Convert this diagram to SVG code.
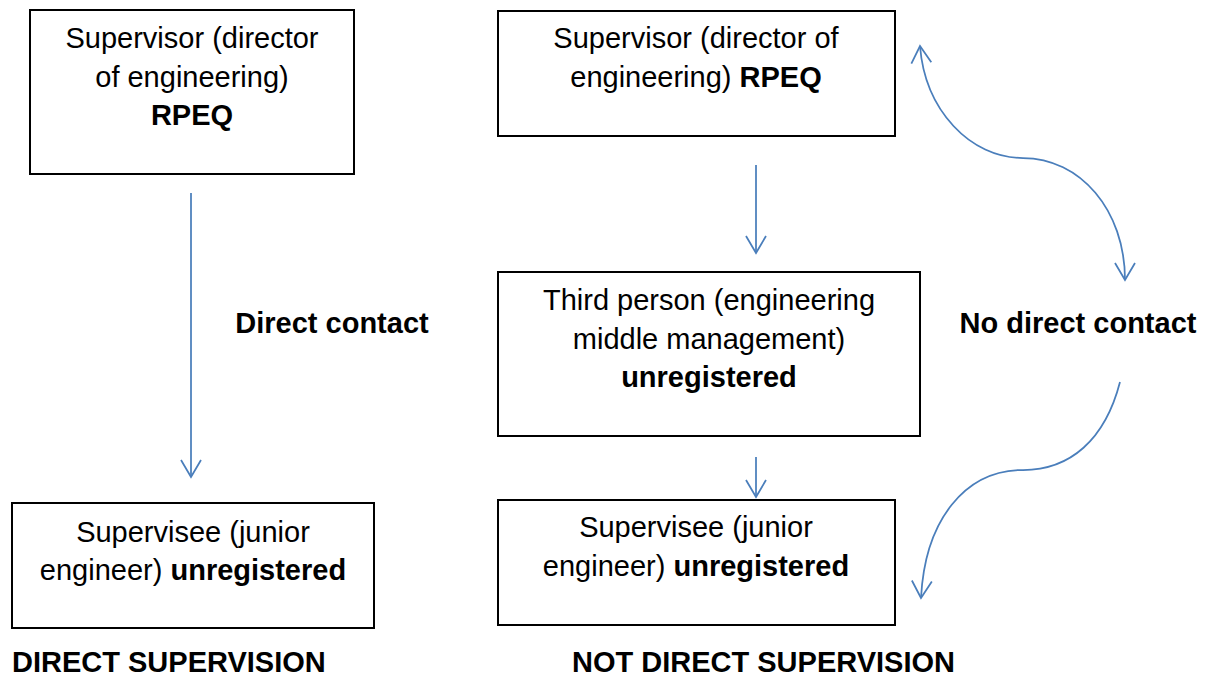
<svg xmlns="http://www.w3.org/2000/svg" width="1216" height="677" viewBox="0 0 1216 677">
<style>
.box{fill:#fff;stroke:#000;stroke-width:2}
text{font-family:"Liberation Sans",Arial,sans-serif;font-size:29px;fill:#000;text-anchor:middle}
.b{font-weight:bold}
.conn{fill:none;stroke:#4a7ebb;stroke-width:1.75}
</style>
<defs>
<marker id="ah" markerUnits="userSpaceOnUse" markerWidth="40" markerHeight="40" viewBox="-20 -20 40 40" refX="0" refY="0" orient="auto-start-reverse">
<path d="M-17,-10 L0,0 L-17,10" fill="none" stroke="#4a7ebb" stroke-width="1.75"/>
</marker>
</defs>
<rect width="1216" height="677" fill="#fff"/>
<g id="connectors">
<line class="conn" x1="191" y1="193" x2="191" y2="477" marker-end="url(#ah)"/>
<line class="conn" x1="756" y1="165" x2="756" y2="253" marker-end="url(#ah)"/>
<line class="conn" x1="756" y1="457" x2="756" y2="497" marker-end="url(#ah)"/>
<path class="conn" d="M920,46 C925,110 970,158 1023,158 C1080,158 1125,210 1125,280" marker-start="url(#ah)" marker-end="url(#ah)"/>
<path class="conn" d="M1120,382 C1105,440 1070,470 1023,470 C965,470 925,520 921,598" marker-end="url(#ah)"/>
</g>
<g id="node-supervisor-left">
<rect class="box" x="30" y="10" width="324" height="164"/>
<text x="192" y="48">Supervisor (director</text>
<text x="192" y="87">of engineering)</text>
<text x="192" y="125" class="b">RPEQ</text>
</g>
<g id="node-supervisor-right">
<rect class="box" x="498" y="11" width="397" height="125"/>
<text x="696" y="48">Supervisor (director of</text>
<text x="696" y="87">engineering) <tspan class="b">RPEQ</tspan></text>
</g>
<g id="node-third-person">
<rect class="box" x="498" y="272" width="422" height="164"/>
<text x="709" y="310">Third person (engineering</text>
<text x="709" y="349">middle management)</text>
<text x="709" y="387" class="b">unregistered</text>
</g>
<g id="node-supervisee-right">
<rect class="box" x="498" y="500" width="397" height="125"/>
<text x="696" y="537">Supervisee (junior</text>
<text x="696" y="576">engineer) <tspan class="b">unregistered</tspan></text>
</g>
<g id="node-supervisee-left">
<rect class="box" x="12" y="503" width="362" height="125"/>
<text x="193" y="542">Supervisee (junior</text>
<text x="193" y="580">engineer) <tspan class="b">unregistered</tspan></text>
</g>
<g id="labels">
<text x="332" y="333" class="b">Direct contact</text>
<text x="1078" y="333" class="b">No direct contact</text>
<text x="12" y="672" class="b" style="text-anchor:start">DIRECT SUPERVISION</text>
<text x="572" y="672" class="b" style="text-anchor:start">NOT DIRECT SUPERVISION</text>
</g>
</svg>
